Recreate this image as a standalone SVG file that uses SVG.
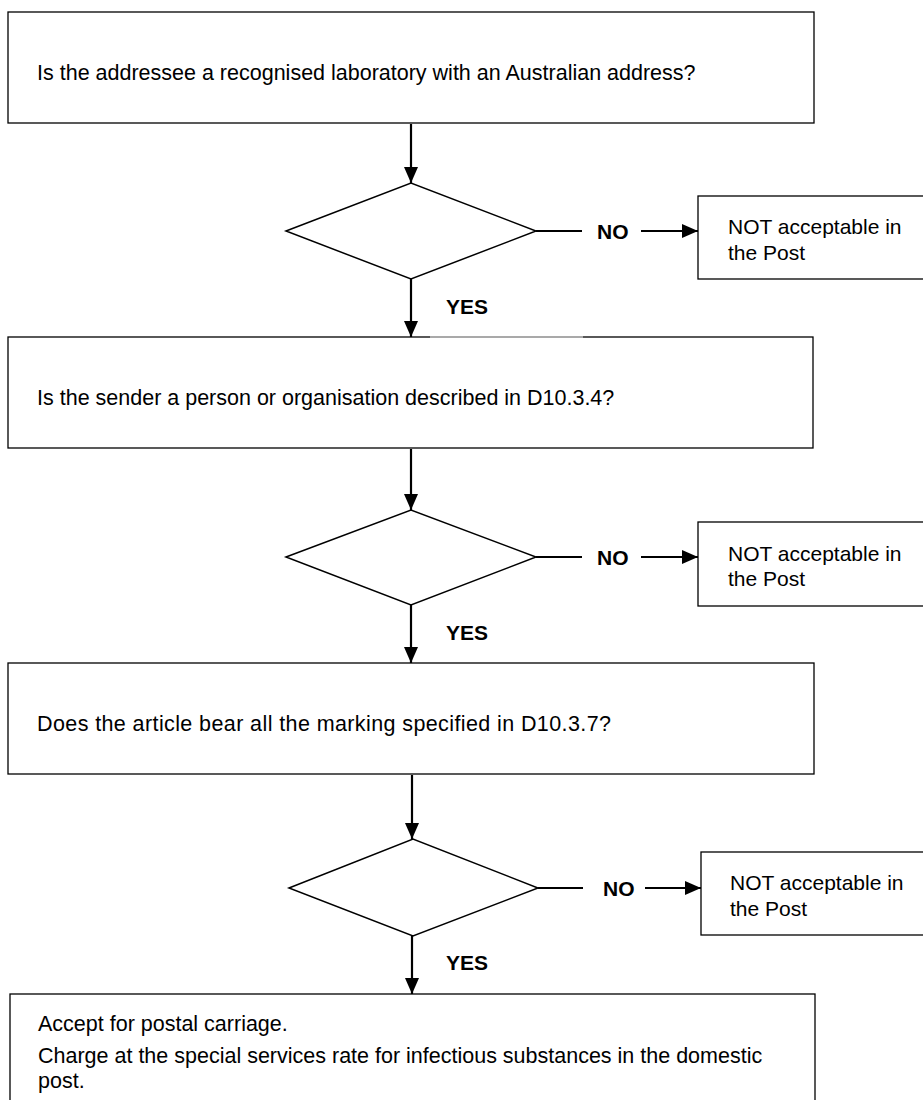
<svg xmlns="http://www.w3.org/2000/svg" width="923" height="1100" viewBox="0 0 923 1100">
<defs>
<style>
.box{fill:#fff;stroke:#000;stroke-width:1.3}
.dia{fill:#fff;stroke:#000;stroke-width:1.5}
.t{font-family:"Liberation Sans",Arial,sans-serif;font-size:21.5px;fill:#000}
.n{font-family:"Liberation Sans",Arial,sans-serif;font-size:21px;fill:#000}
.lbl{font-family:"Liberation Sans",Arial,sans-serif;font-size:21px;font-weight:bold;fill:#000}
.c{stroke:#000;stroke-width:2.2;fill:none}
</style>
<marker id="ah" markerUnits="userSpaceOnUse" markerWidth="16" markerHeight="14" refX="16" refY="7" orient="auto">
<path d="M0,0 L16,7 L0,14 z" fill="#000"/>
</marker>
</defs>
<rect width="923" height="1100" fill="#fff"/>

<g id="connectors">
<line class="c" x1="411" y1="124" x2="411" y2="183" marker-end="url(#ah)"/>
<line class="c" x1="536" y1="231" x2="582" y2="231"/>
<line class="c" x1="641" y1="231" x2="698" y2="231" marker-end="url(#ah)"/>
<line class="c" x1="411" y1="279" x2="411" y2="337" marker-end="url(#ah)"/>
<line class="c" x1="411" y1="449" x2="411" y2="510" marker-end="url(#ah)"/>
<line class="c" x1="536" y1="557" x2="582" y2="557"/>
<line class="c" x1="641" y1="557" x2="698" y2="557" marker-end="url(#ah)"/>
<line class="c" x1="411" y1="605" x2="411" y2="663" marker-end="url(#ah)"/>
<line class="c" x1="412" y1="775" x2="412" y2="839" marker-end="url(#ah)"/>
<line class="c" x1="538" y1="888" x2="583" y2="888"/>
<line class="c" x1="645" y1="888" x2="701" y2="888" marker-end="url(#ah)"/>
<line class="c" x1="412" y1="936" x2="412" y2="994" marker-end="url(#ah)"/>
<text class="lbl" x="597" y="239">NO</text>
<text class="lbl" x="597" y="565">NO</text>
<text class="lbl" x="603" y="896">NO</text>
<text class="lbl" x="446" y="314">YES</text>
<text class="lbl" x="446" y="640">YES</text>
<text class="lbl" x="446" y="970">YES</text>
</g>

<g id="q1">
<rect class="box" x="8" y="12" width="806" height="111"/>
<text class="t" x="37" y="80">Is the addressee a recognised laboratory with an Australian address?</text>
</g>
<g id="d1">
<polygon class="dia" points="286,231 411,183 536,231 411,279"/>
</g>
<g id="no1">
<rect class="box" x="698" y="196" width="230" height="83"/>
<text class="n" x="728" y="234">NOT acceptable in</text>
<text class="n" x="728" y="260">the Post</text>
</g>

<g id="q2">
<rect class="box" x="8" y="337" width="805" height="111"/>
<line x1="430" y1="337" x2="583" y2="337" stroke="#c4c4c4" stroke-width="1.6"/>
<text class="t" x="37" y="405">Is the sender a person or organisation described in D10.3.4?</text>
</g>
<g id="d2">
<polygon class="dia" points="286,557 411,510 536,557 411,605"/>
</g>
<g id="no2">
<rect class="box" x="698" y="522" width="230" height="84"/>
<text class="n" x="728" y="561">NOT acceptable in</text>
<text class="n" x="728" y="586">the Post</text>
</g>

<g id="q3">
<rect class="box" x="8" y="663" width="806" height="111"/>
<text class="t" x="37" y="731" textLength="574" lengthAdjust="spacing">Does the article bear all the marking specified in D10.3.7?</text>
</g>
<g id="d3">
<polygon class="dia" points="289,888 413,839 538,888 413,936"/>
</g>
<g id="no3">
<rect class="box" x="701" y="852" width="230" height="83"/>
<text class="n" x="730" y="890">NOT acceptable in</text>
<text class="n" x="730" y="916">the Post</text>
</g>

<g id="accept">
<rect class="box" x="10" y="994" width="805" height="110"/>
<text class="t" x="38" y="1031">Accept for postal carriage.</text>
<text class="t" x="38" y="1063">Charge at the special services rate for infectious substances in the domestic</text>
<text class="t" x="38" y="1088">post.</text>
</g>
</svg>
